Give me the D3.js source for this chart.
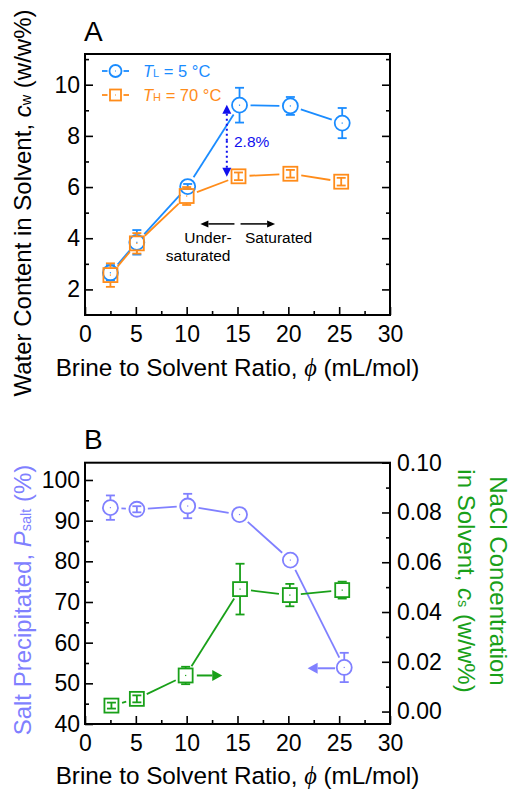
<!DOCTYPE html>
<html>
<head>
<meta charset="utf-8">
<script src="https://cdn.jsdelivr.net/npm/d3@7"></script>
<style>
  body { margin: 0; background: #fff; }
  svg { display: block; font-family: "Liberation Sans", Arial, sans-serif; }
</style>
</head>
<body>
<svg id="chart" width="513" height="789"></svg>
<script>
// ---- data ----
// panel A : water content in solvent
var phiLow = [2.5, 5.1, 10.1, 15.2, 20.2, 25.3]
var cwLow = [2.65, 3.84, 6.02, 9.2, 9.17, 8.5]
var cwLowErr = [0.3, 0.48, 0.1, 0.68, 0.35, 0.59]

var phiHigh = [2.5, 5.1, 10.0, 15.1, 20.2, 25.2]
var cwHigh = [2.56, 3.8, 5.65, 6.42, 6.52, 6.21]
var cwHighErr = [0.46, 0.4, 0.35, 0.15, 0.15, 0.15]

// panel B : salt precipitated (left) and NaCl in solvent (right)
var phiSalt = [2.5, 5.1, 10.1, 15.2, 20.2, 25.5]
var pSalt = [93.2, 92.8, 93.6, 91.5, 80.3, 53.9]
var pSaltErr = [3.0, 0.75, 3.0, 0, 0, 3.6]

var phiNacl = [2.6, 5.1, 9.9, 15.25, 20.15, 25.3]
var csNacl = [0.0024, 0.0051, 0.0145, 0.0492, 0.0468, 0.0488]
var csNaclErr = [0.0012, 0.0014, 0.0035, 0.0102, 0.0045, 0.0034]

var xTicks = [0, 5, 10, 15, 20, 25, 30]
var yTicksA = [2, 4, 6, 8, 10]
var yTicksBL = [40, 50, 60, 70, 80, 90, 100]
var yTicksBR = [0, 0.02, 0.04, 0.06, 0.08, 0.10]

var blue = "#1a8cff", orange = "#ff8c1a", lav = "#8080ff", green = "#19a019", navy = "#1010ee"

var svg = d3.select("#chart")

// ---- scales ----
var x = d3.scaleLinear().domain([0, 30]).range([85, 390])
var yA = d3.scaleLinear().domain([1, 11.2]).range([315, 54])
var yBL = d3.scaleLinear().domain([40, 104.25]).range([724, 462.7])
var yBR = d3.scaleLinear().domain([-0.005, 0.1]).range([724, 462.7])

function frame(top, bottom) {
    svg.append("rect")
        .attr("x", x(0)).attr("y", top)
        .attr("width", x(30) - x(0)).attr("height", bottom - top)
        .attr("fill", "none").attr("stroke", "#000").attr("stroke-width", 2)
}

// inward ticks, d3 axis with negative tick sizes
function styleAxis(g) {
    g.select(".domain").remove()
    g.selectAll(".tick line").attr("stroke", "#000").attr("stroke-width", 1.6)
    g.selectAll(".tick text").attr("font-size", 23).attr("fill", "#000")
        .attr("font-family", "Liberation Sans, Arial, sans-serif")
}

function xAxis(bottom) {
    var g = svg.append("g").attr("transform", `translate(0,${bottom})`)
        .call(d3.axisBottom(x).tickValues(xTicks).tickSize(-8).tickPadding(11))
    styleAxis(g)
    svg.append("g").attr("transform", `translate(0,${bottom})`)
        .call(d3.axisBottom(x).tickValues(d3.range(2.5, 30, 5)).tickSize(-4).tickFormat(""))
        .call(styleAxis)
}

function leftAxis(scale, ticks, minor, fmt) {
    var g = svg.append("g").attr("transform", `translate(${x(0)},0)`)
        .call(d3.axisLeft(scale).tickValues(ticks).tickSize(-8).tickPadding(5).tickFormat(fmt))
    styleAxis(g)
    svg.append("g").attr("transform", `translate(${x(0)},0)`)
        .call(d3.axisLeft(scale).tickValues(minor).tickSize(-4).tickFormat(""))
        .call(styleAxis)
}

function rightAxis(scale, ticks, minor, fmt) {
    var g = svg.append("g").attr("transform", `translate(${x(30)},0)`)
        .call(d3.axisRight(scale).tickValues(ticks).tickSize(-8).tickPadding(7).tickFormat(fmt))
    styleAxis(g)
    svg.append("g").attr("transform", `translate(${x(30)},0)`)
        .call(d3.axisRight(scale).tickValues(minor).tickSize(-4).tickFormat(""))
        .call(styleAxis)
}

// line with gaps around the markers
function gapLine(xs, ys, yScale, color, gap) {
    for (var i = 0; i < xs.length - 1; i++) {
        var x1 = x(xs[i]), y1 = yScale(ys[i]), x2 = x(xs[i + 1]), y2 = yScale(ys[i + 1])
        var len = Math.hypot(x2 - x1, y2 - y1)
        if (len <= 2 * gap) continue
        var ux = (x2 - x1) / len, uy = (y2 - y1) / len
        svg.append("line")
            .attr("x1", x1 + ux * gap).attr("y1", y1 + uy * gap)
            .attr("x2", x2 - ux * gap).attr("y2", y2 - uy * gap)
            .attr("stroke", color).attr("stroke-width", 1.8)
    }
}

function errorBars(xs, ys, errs, yScale, color, half) {
    xs.forEach(function(v, i) {
        var cx = x(v), cy = yScale(ys[i])
        var e = Math.abs(yScale(ys[i] + errs[i]) - cy)
        if (e < 1) return
        [-1, 1].forEach(function(s) {
            var start = e > half ? half : 0
            svg.append("line")
                .attr("x1", cx).attr("x2", cx)
                .attr("y1", cy + s * start).attr("y2", cy + s * e)
                .attr("stroke", color).attr("stroke-width", 1.8)
            svg.append("line")
                .attr("x1", cx - 4.5).attr("x2", cx + 4.5)
                .attr("y1", cy + s * e).attr("y2", cy + s * e)
                .attr("stroke", color).attr("stroke-width", 1.8)
        })
    })
}

function markers(xs, ys, yScale, color, shape) {
    var g = svg.append("g")
    xs.forEach(function(v, i) {
        var cx = x(v), cy = yScale(ys[i])
        if (shape == "circle") {
            g.append("circle").attr("cx", cx).attr("cy", cy).attr("r", 7.5)
        } else {
            g.append("rect").attr("x", cx - 7).attr("y", cy - 7).attr("width", 14).attr("height", 14)
        }
        svg.append("rect").attr("x", cx - 0.6).attr("y", cy - 0.6).attr("width", 1.2).attr("height", 1.2)
            .attr("fill", color)
    })
    g.selectAll("*").attr("fill", "none").attr("stroke", color).attr("stroke-width", 1.8)
}

function series(xs, ys, errs, yScale, color, shape) {
    gapLine(xs, ys, yScale, color, 11)
    markers(xs, ys, yScale, color, shape)
    errorBars(xs, ys, errs, yScale, color, 7.5)
}

function arrow(x1, y1, x2, y2, color, width, headLen, headW, dash) {
    var len = Math.hypot(x2 - x1, y2 - y1)
    var ux = (x2 - x1) / len, uy = (y2 - y1) / len
    var bx = x2 - ux * headLen, by = y2 - uy * headLen
    var ln = svg.append("line").attr("x1", x1).attr("y1", y1).attr("x2", bx).attr("y2", by)
        .attr("stroke", color).attr("stroke-width", width)
    if (dash) ln.attr("stroke-dasharray", dash)
    svg.append("path")
        .attr("d", `M${x2},${y2}L${bx - uy * headW},${by + ux * headW}L${bx + uy * headW},${by - ux * headW}Z`)
        .attr("fill", color)
}

// ================= panel A =================
frame(yA(11.2), yA(1))
xAxis(yA(1))
leftAxis(yA, yTicksA, d3.range(3, 12, 2), d3.format("d"))
rightAxis(yA, yTicksA, d3.range(3, 12, 2), "")

series(phiLow, cwLow, cwLowErr, yA, blue, "circle")
series(phiHigh, cwHigh, cwHighErr, yA, orange, "square")

// 2.8 % difference arrow
var ax = x(13.95)
arrow(ax, (yA(cwLow[3]) + yA(cwHigh[3])) / 2, ax, yA(cwLow[3]) - 0.5, navy, 2, 9, 4.5, "2,3")
arrow(ax, (yA(cwLow[3]) + yA(cwHigh[3])) / 2, ax, yA(cwHigh[3]) + 0.5, navy, 2, 9, 4.5, "2,3")
svg.append("text").attr("x", 234).attr("y", 147).attr("font-size", 15.5).attr("fill", navy).text("2.8%")

// under-saturated / saturated
arrow(x(14.7), yA(4.56), x(11.35), yA(4.56), "#000", 1.5, 8, 3.5)
arrow(x(15.3), yA(4.56), x(18.7), yA(4.56), "#000", 1.5, 8, 3.5)
svg.append("text").attr("x", 208).attr("y", 243).attr("font-size", 15.5).attr("text-anchor", "middle").text("Under-")
svg.append("text").attr("x", 230.5).attr("y", 261).attr("font-size", 15.5).attr("text-anchor", "end").text("saturated")
svg.append("text").attr("x", 245).attr("y", 243).attr("font-size", 15.5).text("Saturated")

// legend
var legend = [
    { label: "L", rest: " = 5 °C", color: blue, shape: "circle", y: 71 },
    { label: "H", rest: " = 70 °C", color: orange, shape: "square", y: 95 }
]
legend.forEach(function(d) {
    svg.append("line").attr("x1", 102).attr("x2", 107.5).attr("y1", d.y).attr("y2", d.y)
        .attr("stroke", d.color).attr("stroke-width", 1.8)
    svg.append("line").attr("x1", 123.5).attr("x2", 129).attr("y1", d.y).attr("y2", d.y)
        .attr("stroke", d.color).attr("stroke-width", 1.8)
    if (d.shape == "circle")
        svg.append("circle").attr("cx", 115.5).attr("cy", d.y).attr("r", 6)
            .attr("fill", "none").attr("stroke", d.color).attr("stroke-width", 1.8)
    else
        svg.append("rect").attr("x", 110).attr("y", d.y - 5.5).attr("width", 11).attr("height", 11)
            .attr("fill", "none").attr("stroke", d.color).attr("stroke-width", 1.8)
    svg.append("rect").attr("x", 115).attr("y", d.y - 0.5).attr("width", 1).attr("height", 1).attr("fill", d.color)
    var t = svg.append("text").attr("x", 143).attr("y", d.y + 6).attr("font-size", 16.5).attr("fill", d.color)
    t.append("tspan").attr("font-style", "italic").text("T")
    t.append("tspan").attr("font-size", 11).text(d.label)
    t.append("tspan").text(d.rest)
})

svg.append("text").attr("x", 84).attr("y", 41).attr("font-size", 28).text("A")

// axis titles
function xTitle(yBase) {
    var t = svg.append("text").attr("x", 237.5).attr("y", yBase).attr("font-size", 24.3)
        .attr("text-anchor", "middle")
    t.append("tspan").text("Brine to Solvent Ratio, ")
    t.append("tspan").attr("font-family", "Liberation Serif, Times New Roman, serif").attr("font-style", "italic").text("ϕ")
    t.append("tspan").text(" (mL/mol)")
}
xTitle(376)

var tA = svg.append("text").attr("transform", "translate(31,203) rotate(-90)")
    .attr("text-anchor", "middle").attr("font-size", 24)
tA.append("tspan").text("Water Content in Solvent, ")
tA.append("tspan").attr("font-style", "italic").text("c")
tA.append("tspan").attr("font-size", 14.5).text("w")
tA.append("tspan").text(" (w/w%)")

// ================= panel B =================
frame(yBL(104.25), yBL(40))
xAxis(yBL(40))
leftAxis(yBL, yTicksBL, d3.range(45, 104, 10), d3.format("d"))
rightAxis(yBR, yTicksBR, d3.range(0.01, 0.1, 0.02), d3.format(".2f"))

series(phiSalt, pSalt, pSaltErr, yBL, lav, "circle")
series(phiNacl, csNacl, csNaclErr, yBR, green, "square")

arrow(x(11.0), yBR(csNacl[2]), x(13.5), yBR(csNacl[2]), green, 2, 10, 5.5)
arrow(x(24.6), yBL(53.7), x(21.9), yBL(53.7), lav, 2, 10, 5.5)

svg.append("text").attr("x", 84).attr("y", 449).attr("font-size", 28).text("B")
xTitle(784)

var tBL = svg.append("text").attr("transform", "translate(31,600) rotate(-90)")
    .attr("text-anchor", "middle").attr("font-size", 24).attr("fill", lav)
tBL.append("tspan").text("Salt Precipitated, ")
tBL.append("tspan").attr("font-style", "italic").text("P")
tBL.append("tspan").attr("font-size", 14.5).text("salt")
tBL.append("tspan").text(" (%)")

svg.append("text").attr("transform", "translate(490,581) rotate(90)")
    .attr("text-anchor", "middle").attr("font-size", 24).attr("fill", green)
    .text("NaCl Concentration")
var tBR = svg.append("text").attr("transform", "translate(458,581) rotate(90)")
    .attr("text-anchor", "middle").attr("font-size", 24).attr("fill", green)
tBR.append("tspan").text("in Solvent, ")
tBR.append("tspan").attr("font-style", "italic").text("c")
tBR.append("tspan").attr("font-size", 14.5).text("s")
tBR.append("tspan").text(" (w/w%)")
</script>
</body>
</html>
